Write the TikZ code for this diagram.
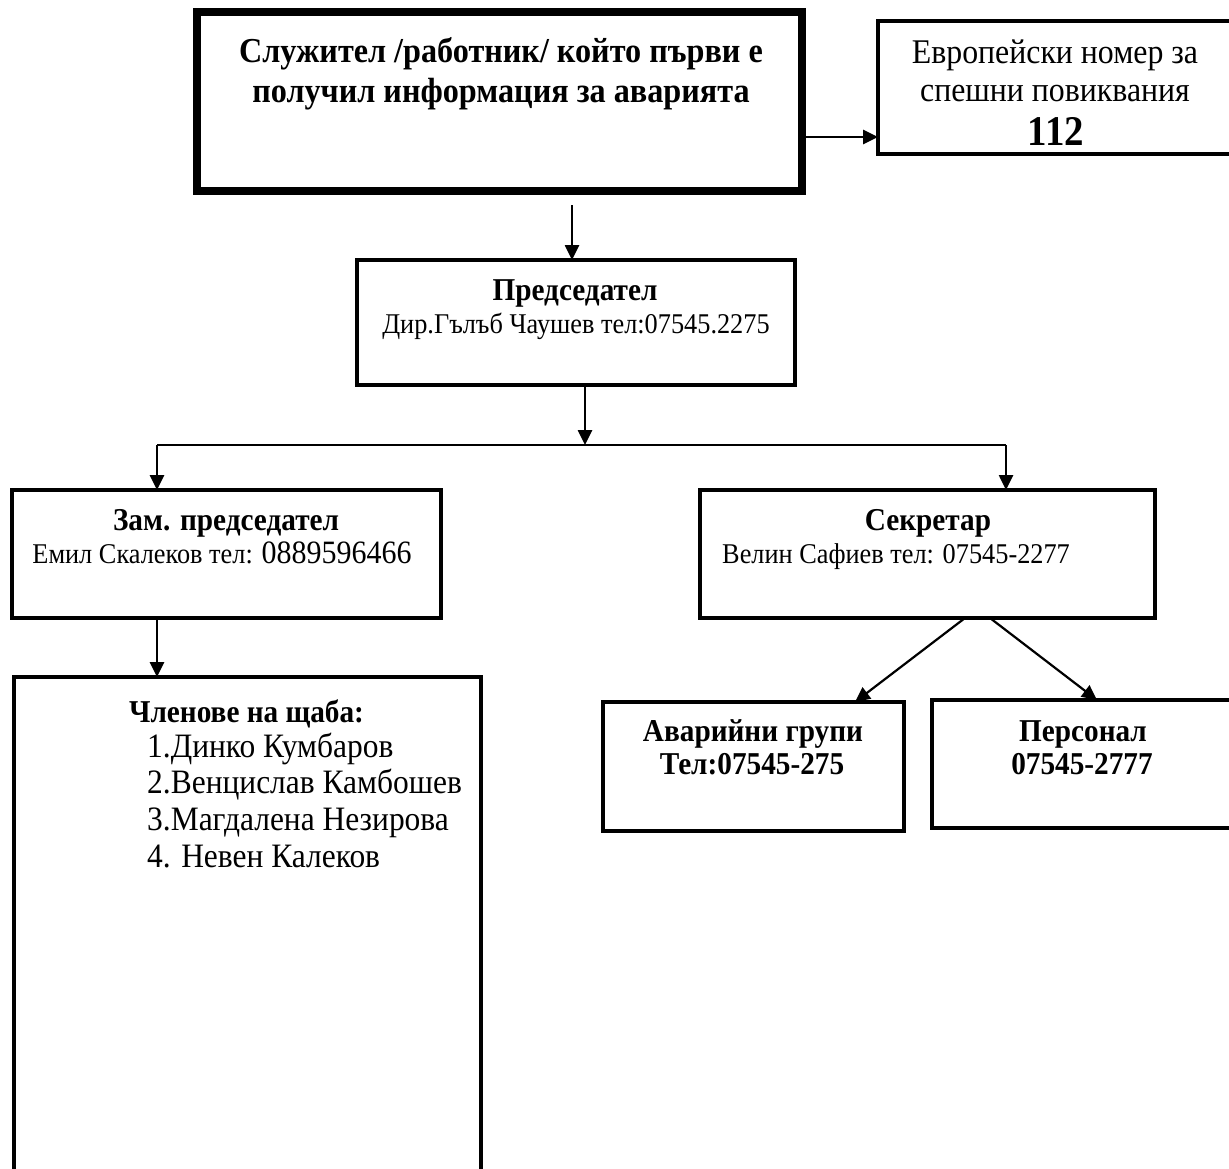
\documentclass[tikz,border=0pt]{standalone}
\usepackage{fontspec}
\setmainfont{Liberation Serif}[FakeStretch=0.92]
\usetikzlibrary{arrows.meta}
\begin{document}
\begin{tikzpicture}[x=1pt,y=-1pt,
  box/.style={draw, rectangle, line width=4pt, inner sep=0pt, outer sep=0pt},
  thickbox/.style={box, line width=8pt},
  conn/.style={line width=2.6pt, -{Triangle[length=15pt,width=14pt]}},
  busline/.style={line width=2pt},
  txt/.style={inner sep=0pt, anchor=base},
  ltxt/.style={inner sep=0pt, anchor=base west},
  hb/.style={font=\bfseries\fontsize{35}{40}\selectfont},
  hn/.style={font=\fontsize{34.6}{39}\selectfont},
  sb/.style={font=\bfseries\fontsize{31.8}{33}\selectfont},
  sn/.style={font=\fontsize{28.6}{33}\selectfont},
  ln/.style={font=\fontsize{34.2}{37}\selectfont}]
\useasboundingbox (0,0) rectangle (1229,1168);
\clip (0,0) rectangle (1229,1168);
% boxes
\node[thickbox, minimum width=605pt, minimum height=179pt] (top) at (499.5,101.5) {};
\node[box, minimum width=356pt, minimum height=133pt] (e112) at (1056,87.5) {};
\node[box, minimum width=438pt, minimum height=125pt] (pred) at (576,322.5) {};
\node[box, minimum width=429pt, minimum height=128pt] (zam) at (226.5,554) {};
\node[box, minimum width=455pt, minimum height=128pt] (sek) at (927.5,554) {};
\node[box, minimum width=301pt, minimum height=129pt] (avar) at (753.5,766.5) {};
\node[box, minimum width=307pt, minimum height=128pt] (pers) at (1085.5,764) {};
\node[box, minimum width=467pt, minimum height=503pt] (chl) at (247.5,928.5) {};
% texts
\node[txt, hb] (t1a) at (501,62) {Служител /работник/ който първи е};
\node[txt, hb] (t1b) at (501,102) {получил информация за аварията};
\node[txt, hn] (t2a) at (1055,63) {Европейски номер за};
\node[txt, hn] (t2b) at (1055,101) {спешни повиквания};
\node[txt, font=\bfseries\fontsize{42.3}{40}\selectfont] (t2c) at (1056,145) {112};
\node[txt, sb] (t3a) at (575,300) {Председател};
\node[txt, sn] (t3b) at (576,333) {Дир.Гълъб Чаушев тел:07545.2275};
\node[txt, sb] (t4a) at (226,530) {Зам. председател};
\node[txt, sn] (t4b) at (222,563) {Емил Скалеков тел: {\fontsize{32.6}{33}\selectfont 0889596466}};
\node[txt, sb] (t5a) at (928,530) {Секретар};
\node[ltxt, sn] (t5b) at (722,563) {Велин Сафиев тел: 07545-2277};
\node[txt, sb] (t6a) at (753,741) {Аварийни групи};
\node[txt, sb] (t6b) at (752,774) {Тел:07545-275};
\node[txt, sb] (t7a) at (1083,741) {Персонал};
\node[txt, sb] (t7b) at (1082,774) {07545-2777};
\node[txt, sb] (t8) at (246.5,722) {Членове на щаба:};
\node[ltxt, ln] (l1) at (147,757) {1.Динко Кумбаров};
\node[ltxt, ln] (l2) at (147,793) {2.Венцислав Камбошев};
\node[ltxt, ln] (l3) at (147,830) {3.Магдалена Незирова};
\node[ltxt, ln] (l4) at (147,867) {4. Невен Калеков};
% connectors
\coordinate (ya) at (0,137);
\draw[conn] (top.east |- ya) -- (e112.west |- ya);
\coordinate (s1) at (572,205);
\draw[conn] (s1) -- (pred.north -| s1);
\coordinate (bx) at (585,445);
\draw[conn] (pred.south -| bx) -- (bx);
\coordinate (bl) at (157,445);
\coordinate (br) at (1006,445);
\draw[busline] (bl) -- (br);
\draw[conn] (bl) -- (zam.north -| bl);
\draw[conn] (br) -- (sek.north -| br);
\draw[conn] (zam.south -| bl) -- (chl.north -| bl);
\coordinate (sa) at (965,0);
\coordinate (sb) at (990,0);
\coordinate (ta) at (855,0);
\coordinate (tb) at (1097,0);
\draw[conn, line width=2.2pt] (sek.south -| sa) -- (avar.north -| ta);
\draw[conn, line width=2.2pt] (sek.south -| sb) -- (pers.north -| tb);
\end{tikzpicture}
\end{document}
